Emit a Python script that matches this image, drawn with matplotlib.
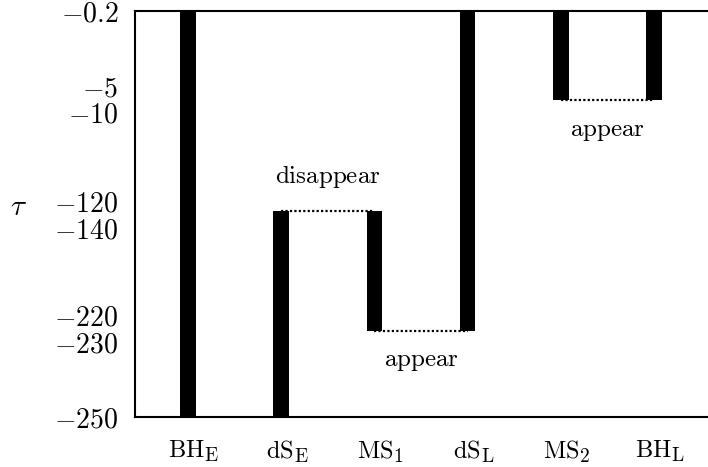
import numpy as np
import matplotlib
matplotlib.use('Agg')
import matplotlib.pyplot as plt
import matplotlib.transforms as mtrans
from matplotlib.ticker import NullLocator
import matplotlib._mathtext as _mt

_mt.SHRINK_FACTOR = 0.8  # larger subscripts, as in the reference

plt.rcParams['mathtext.fontset'] = 'cm'
plt.rcParams['font.family'] = ['DejaVu Serif']

# ---- data ----
states = [r'$\mathrm{BH}_\mathrm{E}$', r'$\mathrm{dS}_\mathrm{E}$', r'$\mathrm{MS}_1$',
          r'$\mathrm{dS}_\mathrm{L}$', r'$\mathrm{MS}_2$', r'$\mathrm{BH}_\mathrm{L}$']
bar_top = [-0.2, -127, -127, -0.2, -0.2, -0.2]
bar_bottom = [-250, -250, -226, -226, -7.7, -7.7]
tau_ticks = [-0.2, -5, -10, -120, -140, -220, -230, -250]
# transitions: (from state idx, to state idx, tau level, label, side)
trans_from = [2, 3, 5]
trans_to = [3, 4, 6]
trans_tau = [-127, -226, -7.7]
trans_label = ['disappear', 'appear', 'appear']
trans_side = ['above', 'below', 'below']

# ---- non-uniform axis scale (visual spacing of tick levels) ----
tick_pos = np.array([12, 87, 113, 202, 228, 315, 342, 417], dtype=float)
order = np.argsort(tau_ticks)
tau_sorted = np.array(tau_ticks, dtype=float)[order]
pos_sorted = -tick_pos[order]

def fwd(t):
    return np.interp(t, tau_sorted, pos_sorted)

def inv(p):
    return np.interp(p, pos_sorted, tau_sorted)

fig = plt.figure(figsize=(7.08, 4.67), dpi=100)
ax = fig.add_axes([135/708, 1 - 417/467, 1 - 135/708, (417 - 11)/467])
ax.set_yscale('function', functions=(fwd, inv))
ax.set_ylim(-250, -0.2)
ax.set_xlim(0.43, 6.58)

x = np.arange(1, len(states) + 1)
heights = np.array(bar_top) - np.array(bar_bottom)
ax.bar(x, heights, bottom=bar_bottom, width=0.169, color='black', zorder=3)

for a, b, t, lab, side in zip(trans_from, trans_to, trans_tau, trans_label, trans_side):
    ax.plot([a, b], [t, t], color='black', linestyle=(0, (1, 1)), linewidth=1.6, zorder=2)
    xm = (a + b) / 2
    dy = 20 if side == 'above' else -25.5
    ax.annotate(r'$\mathrm{' + lab + '}$', (xm, t), xytext=(0, dy), textcoords='offset points',
                ha='center', va='baseline', fontsize=18)

ax.set_yticks(tau_ticks, labels=[f'${v:g}$' for v in tau_ticks])
ax.yaxis.set_minor_locator(NullLocator())
ax.set_xticks(x, labels=states)
ax.tick_params(axis='both', length=0)
ax.tick_params(axis='y', pad=12, labelsize=20)
ax.tick_params(axis='x', pad=16, labelsize=17.5)
shift = mtrans.ScaledTranslation(6/100, 0, fig.dpi_scale_trans)
for lbl in ax.get_xticklabels():
    lbl.set_transform(lbl.get_transform() + shift)
ax.spines['right'].set_visible(False)
for s in ['left', 'top', 'bottom']:
    ax.spines[s].set_linewidth(1.5)

fig.text(19/708, 1 - 207/467, r'$\tau$', fontsize=21, ha='center', va='center')

fig.savefig('out.png', dpi=100)
